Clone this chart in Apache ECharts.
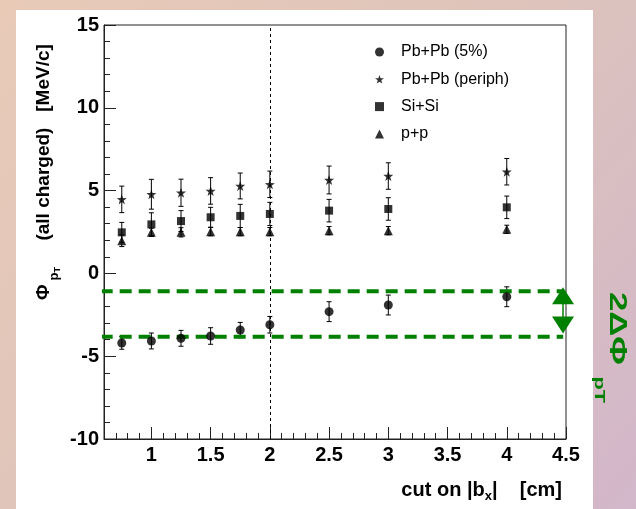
<!DOCTYPE html>
<html lang="en">
<head>
    <meta charset="UTF-8">
    <title>Phi_pT vs cut on |b_x|</title>
    <script src="https://cdn.jsdelivr.net/npm/echarts@6/dist/echarts.min.js"></script>
</head>
<style>
    html, body {
        margin: 0;
        height: 100%;
    }
</style>
<body>
<div id="main" style="width: 636px;height:509px"></div>
<script type="text/javascript">
    // cut on |b_x| [cm]
    var cuts = [0.75, 1, 1.25, 1.5, 1.75, 2, 2.5, 3, 4];
    // Phi_pT [MeV/c] and errors
    var pbCentral = [-4.2, -4.08, -3.92, -3.78, -3.42, -3.1, -2.31, -1.91, -1.41];
    var pbCentralErr = [0.38, 0.48, 0.48, 0.5, 0.46, 0.5, 0.6, 0.6, 0.6];
    var pbPeriph = [4.47, 4.78, 4.87, 4.98, 5.28, 5.38, 5.64, 5.88, 6.14];
    var pbPeriphErr = [0.8, 0.9, 0.82, 0.8, 0.78, 0.8, 0.84, 0.8, 0.8];
    var siSi = [2.48, 2.96, 3.16, 3.39, 3.47, 3.59, 3.79, 3.89, 3.99];
    var siSiErr = [0.6, 0.7, 0.63, 0.6, 0.7, 0.7, 0.68, 0.68, 0.68];
    var pp = [1.97, 2.48, 2.48, 2.52, 2.52, 2.52, 2.58, 2.58, 2.66];
    var ppErr = [0.35, 0.25, 0.28, 0.25, 0.25, 0.25, 0.25, 0.25, 0.25];

    var xTickLabels = [1, 1.5, 2, 2.5, 3, 3.5, 4, 4.5];
    var bandLevels = [-1.08, -3.82];
    var bandX = [0.572, 4.476];
    var arrowX = 4.475;
    var arrowEnds = [-1.35, -3.12];
    var cutLine = 2;

    var starPath = 'path://M0,-10L2.35,-3.24L9.51,-3.09L3.8,1.24L5.88,8.09L0,4L-5.88,8.09L-3.8,1.24L-9.51,-3.09L-2.35,-3.24Z';
    var green = '#008000';
    var font = 'Liberation Sans';

    function pairs(vals) {
        return cuts.map(function (c, i) { return [c, vals[i]]; });
    }

    function errData(vals, errs) {
        return cuts.map(function (c, i) { return [c, vals[i], errs[i]]; });
    }

    function errorBars(vals, errs) {
        return {
            type: 'custom',
            data: errData(vals, errs),
            encode: {x: 0, y: 1},
            z: 1,
            silent: true,
            renderItem: function (params, api) {
                var x = api.value(0), y = api.value(1), e = api.value(2);
                var hi = api.coord([x, y + e]);
                var lo = api.coord([x, y - e]);
                var st = {stroke: '#000', lineWidth: 1};
                return {
                    type: 'group',
                    children: [
                        {type: 'line', shape: {x1: hi[0], y1: hi[1], x2: lo[0], y2: lo[1]}, style: st},
                        {type: 'line', shape: {x1: hi[0] - 2.5, y1: hi[1], x2: hi[0] + 2.5, y2: hi[1]}, style: st},
                        {type: 'line', shape: {x1: lo[0] - 2.5, y1: lo[1], x2: lo[0] + 2.5, y2: lo[1]}, style: st}
                    ]
                };
            }
        };
    }

    function points(name, vals, symbol, size) {
        return {
            name: name,
            type: 'scatter',
            data: pairs(vals),
            symbol: symbol,
            symbolSize: size,
            itemStyle: {color: '#000'},
            z: 3
        };
    }

    function band(level, withMarks) {
        var s = {
            type: 'line',
            data: [[bandX[0], level], [bandX[1], level]],
            clip: false,
            symbol: 'none',
            silent: true,
            lineStyle: {color: green, width: 4, type: [12, 7]},
            z: 2
        };
        if (withMarks) {
            s.markLine = {
                silent: true,
                animation: false,
                symbol: ['none', 'none'],
                label: {show: false},
                data: [
                    {xAxis: cutLine, lineStyle: {color: '#000', width: 1, type: [3, 3]}},
                    [
                        {coord: [arrowX, arrowEnds[0]], symbol: 'triangle', symbolSize: [22, 17],
                            lineStyle: {color: green, width: 1.5, type: 'solid'}},
                        {coord: [arrowX, arrowEnds[1]], symbol: 'triangle', symbolSize: [22, 17]}
                    ]
                ]
            };
        }
        return s;
    }

    var myChart = echarts.init(document.getElementById('main'));
    var option = {
        animation: false,
        backgroundColor: {
            type: 'linear', x: 0, y: 0, x2: 1, y2: 1,
            colorStops: [
                {offset: 0, color: '#e8cab7'},
                {offset: 0.5, color: '#dec4bb'},
                {offset: 1, color: '#d2b6ca'}
            ]
        },
        graphic: [
            {type: 'rect', z: -100, silent: true, shape: {x: 16, y: 10, width: 577, height: 510}, style: {fill: '#fff'}},
            {
                type: 'text', x: 34, y: 300, rotation: Math.PI / 2, silent: true,
                style: {
                    text: '{m|Φ}{s|p}{t|T}{m|     (all charged)   [MeV/c]}',
                    align: 'left', verticalAlign: 'top', fill: '#000',
                    rich: {
                        m: {fontFamily: font, fontWeight: 'bold', fontSize: 19, verticalAlign: 'top'},
                        s: {fontFamily: font, fontWeight: 'bold', fontSize: 13, verticalAlign: 'top', padding: [14, 0, 0, 4]},
                        t: {fontFamily: font, fontWeight: 'bold', fontSize: 9, verticalAlign: 'top', padding: [19, 0, 0, 0]}
                    }
                }
            },
            {
                type: 'text', x: 562, y: 480, silent: true,
                style: {
                    text: '{m|cut on |b}{s|x}{m||    [cm]}',
                    align: 'right', verticalAlign: 'top', fill: '#000',
                    rich: {
                        m: {fontFamily: font, fontWeight: 'bold', fontSize: 20, verticalAlign: 'top'},
                        s: {fontFamily: font, fontWeight: 'bold', fontSize: 13, verticalAlign: 'top', padding: [10, 0, 0, 0]}
                    }
                }
            },
            {
                type: 'text', x: 629, y: 292, rotation: -Math.PI / 2, scaleX: 1.45, silent: true,
                style: {
                    text: '{m|2ΔΦ}{s|pT}',
                    align: 'left', verticalAlign: 'top', fill: green,
                    rich: {
                        m: {fontFamily: font, fontWeight: 'bold', fontSize: 24, verticalAlign: 'top'},
                        s: {fontFamily: font, fontWeight: 'bold', fontSize: 15, verticalAlign: 'top', padding: [22, 0, 0, 8]}
                    }
                }
            }
        ],
        grid: {
            left: 104, right: 70, top: 25, bottom: 70,
            show: true, borderColor: '#222', borderWidth: 1
        },
        legend: {
            data: ['Pb+Pb (5%)', 'Pb+Pb (periph)', 'Si+Si', 'p+p'],
            orient: 'vertical',
            left: 370, top: 39,
            itemWidth: 9, itemHeight: 9, itemGap: 11.3,
            textStyle: {fontFamily: font, fontSize: 16, color: '#000', padding: [0, 0, 0, 12]}
        },
        xAxis: [
            {
                type: 'value', min: 0.6, max: 4.5, position: 'bottom',
                axisLine: {show: true, onZero: false, lineStyle: {color: '#222', width: 1}},
                axisTick: {show: true, inside: true, length: 12, customValues: xTickLabels, lineStyle: {color: '#222'}},
                axisLabel: {
                    customValues: xTickLabels, margin: 6, color: '#000',
                    fontFamily: font, fontWeight: 'bold', fontSize: 20
                },
                splitLine: {show: false}
            },
            {
                type: 'value', min: 0.6, max: 4.5, interval: 0.1, position: 'bottom',
                axisLine: {show: false, onZero: false},
                axisTick: {show: true, inside: true, length: 6, lineStyle: {color: '#222'}},
                axisLabel: {show: false},
                splitLine: {show: false}
            }
        ],
        yAxis: {
            type: 'value', min: -10, max: 15, interval: 5,
            axisLine: {show: true, onZero: false, lineStyle: {color: '#222', width: 1}},
            axisTick: {show: true, inside: true, length: 12, lineStyle: {color: '#222'}},
            minorTick: {show: true, splitNumber: 5, length: 6, lineStyle: {color: '#222'}},
            axisLabel: {margin: 5, color: '#000', fontFamily: font, fontWeight: 'bold', fontSize: 20},
            splitLine: {show: false}
        },
        series: [
            errorBars(pbCentral, pbCentralErr),
            errorBars(pbPeriph, pbPeriphErr),
            errorBars(siSi, siSiErr),
            errorBars(pp, ppErr),
            band(bandLevels[0], true),
            band(bandLevels[1], false),
            points('Pb+Pb (5%)', pbCentral, 'circle', 9),
            points('Pb+Pb (periph)', pbPeriph, starPath, 10),
            points('Si+Si', siSi, 'rect', 8),
            points('p+p', pp, 'triangle', 9)
        ]
    };
    myChart.setOption(option);
</script>
</body>
</html>
